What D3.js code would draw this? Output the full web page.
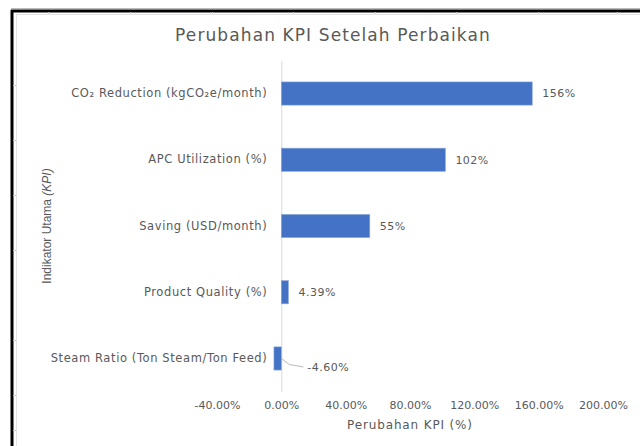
<!DOCTYPE html>
<html>
<head>
<meta charset="utf-8">
<script src="https://cdn.jsdelivr.net/npm/d3@7"></script>
<style>
  body { margin: 0; background: #fff; }
  svg { display: block; }
</style>
</head>
<body>
<div id="chart"></div>
<script>
// data
const categories = [
  "CO₂ Reduction (kgCO₂e/month)",
  "APC Utilization (%)",
  "Saving (USD/month)",
  "Product Quality (%)",
  "Steam Ratio (Ton Steam/Ton Feed)"
];
const changes = [1.56, 1.02, 0.55, 0.0439, -0.046];
const valueLabels = ["156%", "102%", "55%", "4.39%", "-4.60%"];
const xTicks = [-0.4, 0, 0.4, 0.8, 1.2, 1.6, 2.0];

const W = 640, H = 446;
const font = "'DejaVu Sans', Verdana, sans-serif";
const grey = "#595959";

const svg = d3.select("#chart").append("svg")
  .attr("width", W).attr("height", H);

// spreadsheet frame around the chart
svg.append("line").attr("x1", 11).attr("x2", W).attr("y1", 8.5).attr("y2", 8.5)
  .attr("stroke", "#bbb").attr("stroke-width", 1);
svg.append("line").attr("x1", 11).attr("x2", W).attr("y1", 11).attr("y2", 11)
  .attr("stroke", "#000").attr("stroke-width", 3);
svg.append("line").attr("x1", 12).attr("x2", 12).attr("y1", 10).attr("y2", H)
  .attr("stroke", "#000").attr("stroke-width", 3);
svg.append("line").attr("x1", 16).attr("x2", W).attr("y1", 14.5).attr("y2", 14.5)
  .attr("stroke", "#e3e3e3");
svg.append("line").attr("x1", 16.5).attr("x2", 16.5).attr("y1", 14).attr("y2", H)
  .attr("stroke", "#e3e3e3");
[48, 130, 212, 293, 375, 456, 538, 617].forEach(px => {
  svg.append("line").attr("x1", px + 0.5).attr("x2", px + 0.5).attr("y1", 12).attr("y2", 14)
    .attr("stroke", "#ccc");
});
[85, 140, 195, 250, 340, 395, 430].forEach(py => {
  svg.append("line").attr("x1", 13).attr("x2", 16).attr("y1", py + 0.5).attr("y2", py + 0.5)
    .attr("stroke", "#ccc");
});

// scales
const x = d3.scaleLinear().domain([-0.4, 2.0]).range([217, 603]);
const y = d3.scaleBand().domain(categories).range([60.4, 391.6])
  .paddingInner(0.65).paddingOuter(0.325);

// title
svg.append("text")
  .attr("x", 333).attr("y", 41)
  .attr("text-anchor", "middle")
  .style("font-family", font).style("font-size", "17px")
  .style("letter-spacing", "1.1px")
  .attr("fill", grey)
  .text("Perubahan KPI Setelah Perbaikan");

// x axis
const pct = d3.format(".2%");
const xAxis = svg.append("g")
  .attr("transform", `translate(0,${y.range()[1]})`)
  .call(d3.axisBottom(x).tickValues(xTicks)
    .tickFormat(d => pct(d).replace("−", "-"))
    .tickSize(0).tickPadding(10));
xAxis.select(".domain").remove();
xAxis.selectAll("text")
  .style("font-family", font).style("font-size", "11px").attr("fill", grey);

// y axis at zero
const yAxis = svg.append("g")
  .attr("transform", `translate(${x(0)},0)`)
  .call(d3.axisLeft(y).tickSize(0).tickSizeOuter(0).tickPadding(14));
yAxis.select(".domain").attr("stroke", "#d9d9d9").attr("stroke-width", 1);
yAxis.selectAll("text")
  .style("font-family", font).style("font-size", "11.5px")
  .style("letter-spacing", "0.6px")
  .attr("fill", grey);

// bars
const rows = categories.map((c, i) => ({ cat: c, v: changes[i], label: valueLabels[i] }));

svg.append("g").selectAll("rect")
  .data(rows)
  .join("rect")
    .attr("x", d => x(Math.min(0, d.v)))
    .attr("y", d => y(d.cat))
    .attr("width", d => Math.abs(x(d.v) - x(0)))
    .attr("height", y.bandwidth())
    .attr("fill", "#4472C4")
    .attr("stroke", "#8EA9DB")
    .attr("stroke-width", 0.6);

// data labels
const lab = svg.append("g").selectAll("g")
  .data(rows)
  .join("g");

lab.filter(d => d.v >= 0).append("text")
  .attr("x", d => x(d.v) + 10)
  .attr("y", d => y(d.cat) + y.bandwidth() / 2)
  .attr("dy", "0.35em")
  .style("font-family", font).style("font-size", "11px")
  .style("letter-spacing", "0.5px")
  .attr("fill", grey)
  .text(d => d.label);

// negative label sits off the bar with a leader line
const neg = lab.filter(d => d.v < 0);
neg.append("path")
  .attr("d", d => {
    const cy = y(d.cat) + y.bandwidth() / 2;
    return `M${x(0)},${cy}L${x(0) + 8},${cy + 6}L${x(0) + 22},${cy + 8.5}`;
  })
  .attr("fill", "none").attr("stroke", "#a6a6a6").attr("stroke-width", 0.8);
neg.append("text")
  .attr("x", x(0) + 26)
  .attr("y", d => y(d.cat) + y.bandwidth() / 2 + 9)
  .attr("dy", "0.35em")
  .style("font-family", font).style("font-size", "11px")
  .style("letter-spacing", "0.5px")
  .attr("fill", grey)
  .text(d => d.label);

// axis titles
svg.append("text")
  .attr("x", 410).attr("y", 429)
  .attr("text-anchor", "middle")
  .style("font-family", font).style("font-size", "12px")
  .style("letter-spacing", "0.85px")
  .attr("fill", grey)
  .text("Perubahan KPI (%)");

const yt = svg.append("text")
  .attr("transform", "translate(51,226) rotate(-90)")
  .attr("text-anchor", "middle")
  .style("font-family", "'Liberation Sans Narrow', 'Liberation Sans', sans-serif")
  .style("font-size", "12px")
  .attr("fill", grey);
yt.append("tspan").text("Indikator Utama ");
yt.append("tspan").style("font-style", "italic").text("(KPI)");
</script>
</body>
</html>
